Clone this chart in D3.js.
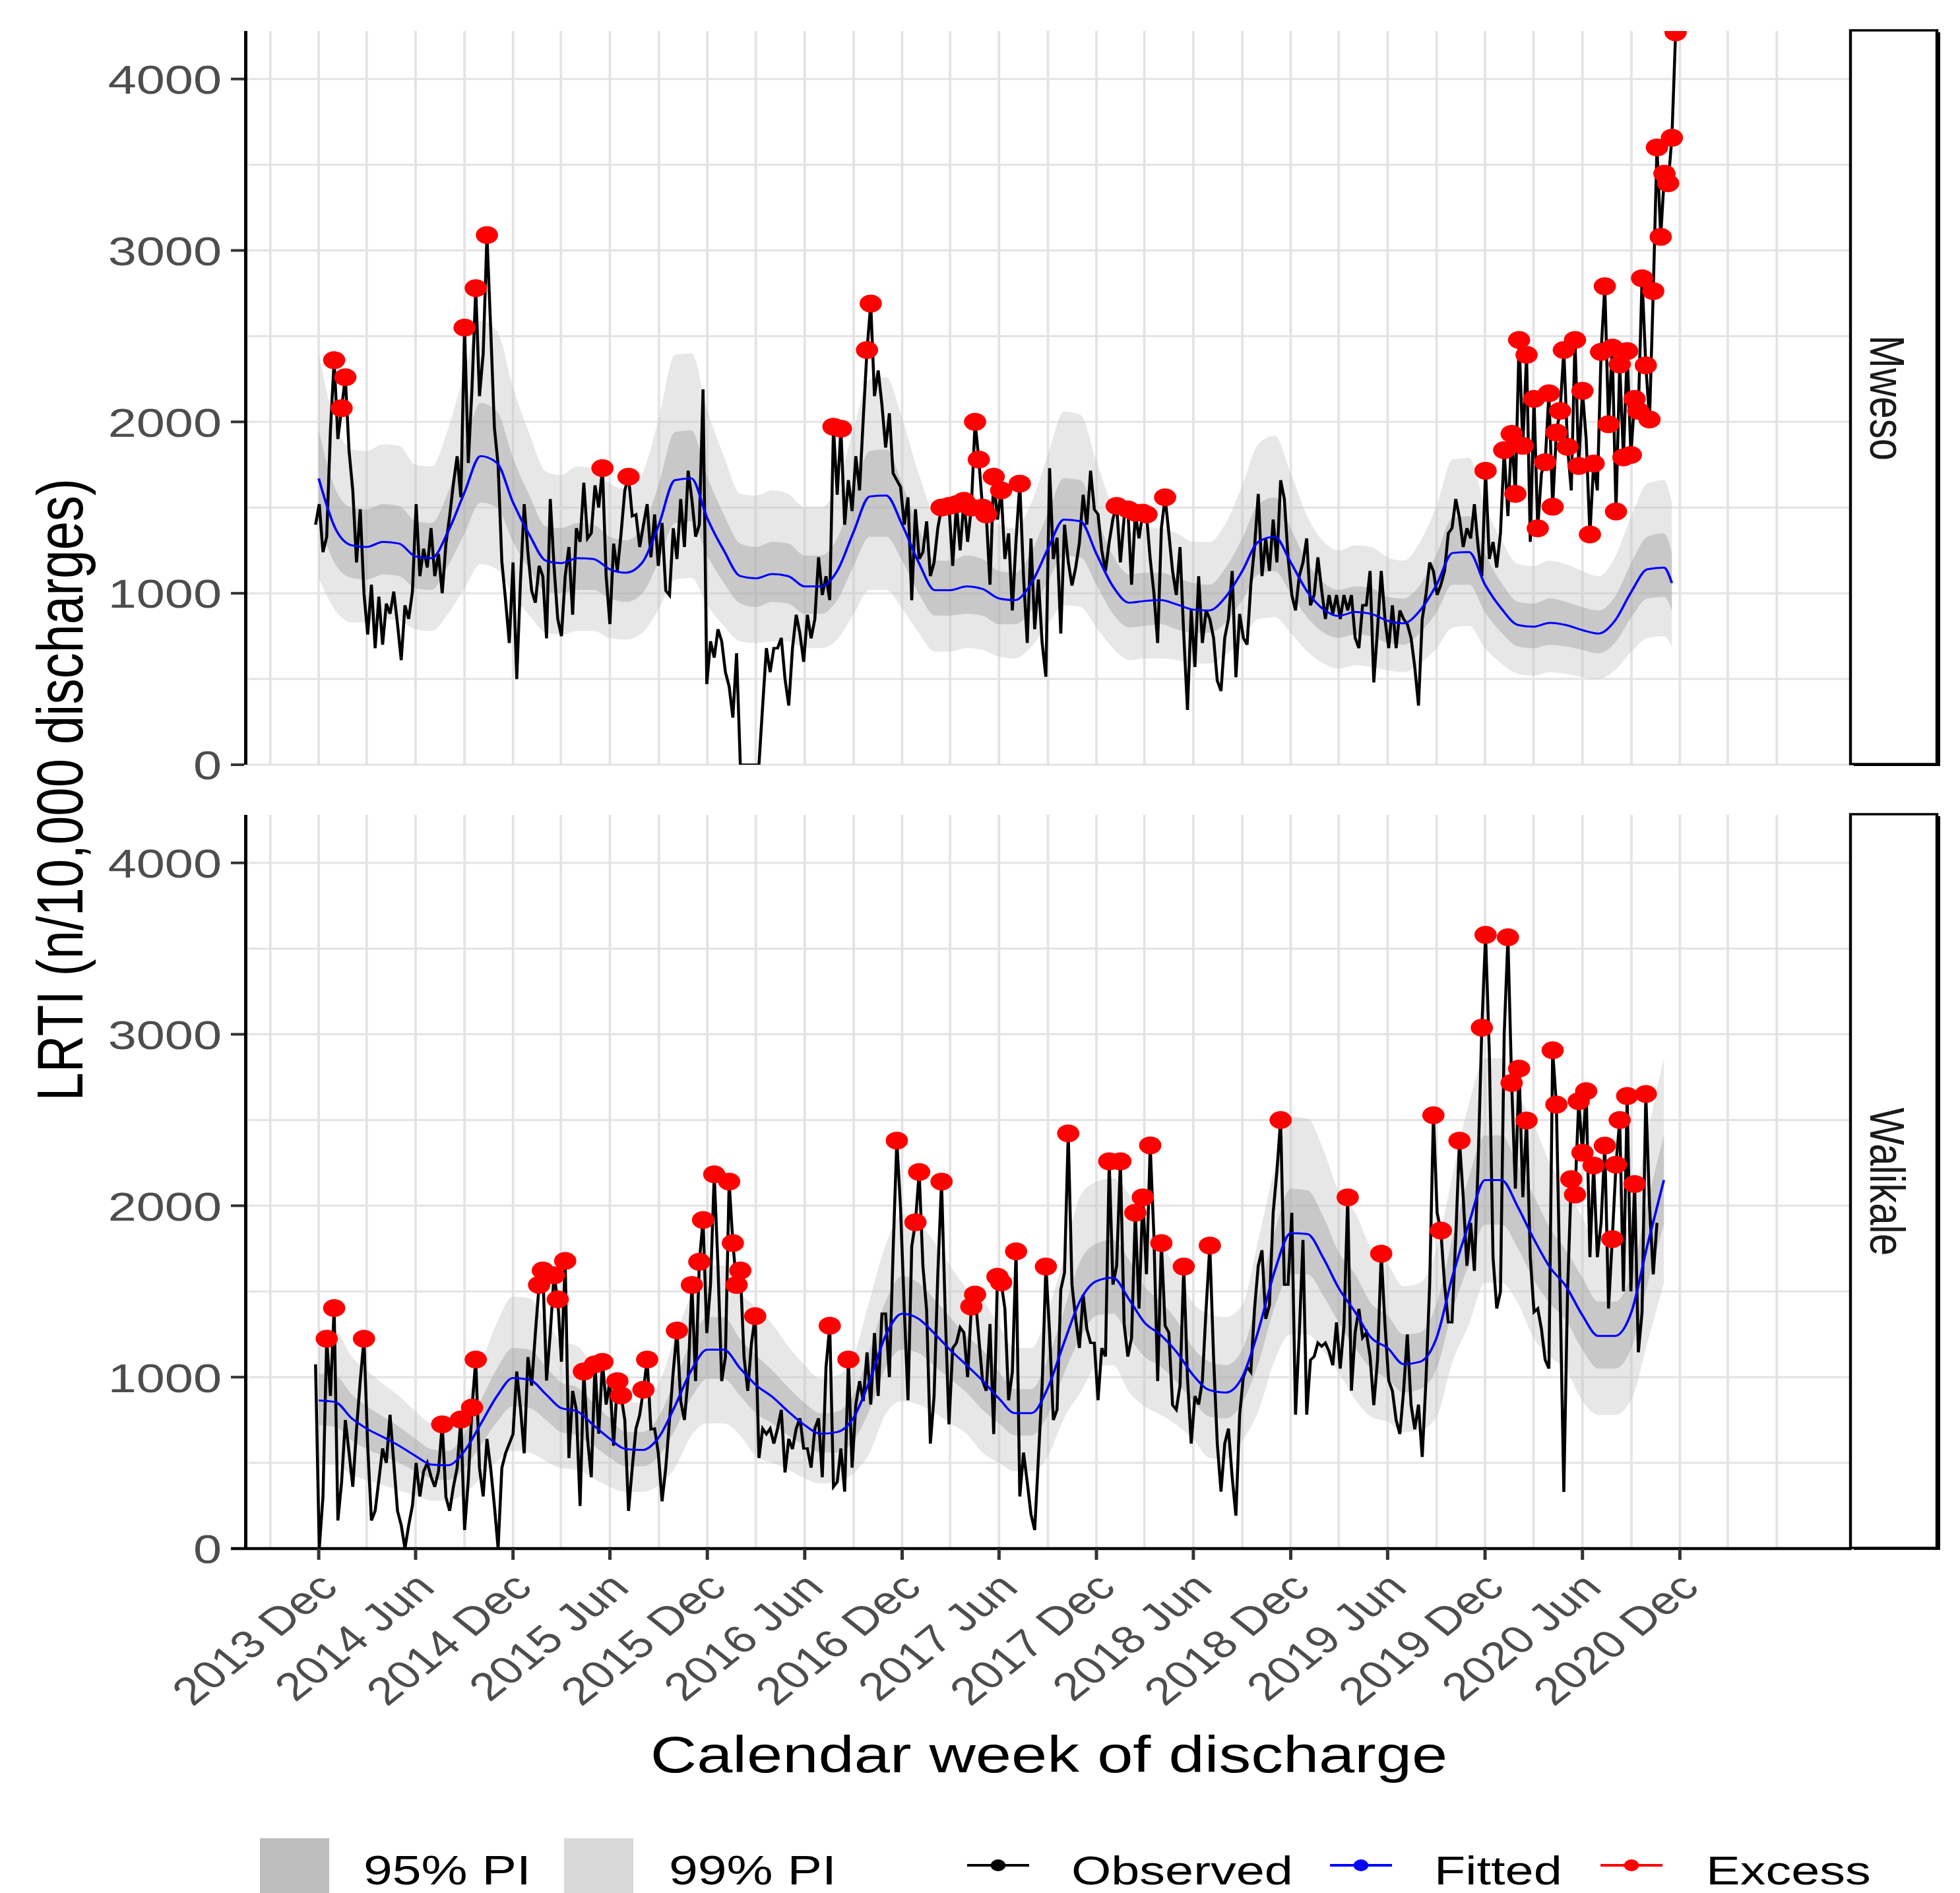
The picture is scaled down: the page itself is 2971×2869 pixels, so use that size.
<!DOCTYPE html>
<html>
<head>
<meta charset="utf-8">
<script src="https://cdn.jsdelivr.net/npm/d3@7/dist/d3.min.js"></script>
<style>
  html, body { margin: 0; padding: 0; background: #fff; }
  svg { display: block; font-family: 'Liberation Sans', Arial, sans-serif; }
</style>
</head>
<body>
<svg id="chart"></svg>
<script>
const width = 2971
const height = 2869
const SX = 1.25 // the whole picture is stretched sideways

// weekly observed series start on this Monday
const obsStart = new Date(2013, 10, 25)
const fitStart = new Date(2013, 11, 1)

const mwesoObserved = [
  1400,1520,1240,1330,1950,2360,1900,2080,2260,1830,
  1600,1180,1490,1000,760,1050,680,980,700,940,
  880,1010,820,610,930,850,1010,1520,1100,1260,
  1150,1380,1100,1230,1000,1290,1450,1640,1800,1560,
  2550,1760,2200,2780,2150,2400,3090,2550,1966,1750,
  1185,960,710,1180,500,1070,1520,1240,1015,945,
  1160,1100,737,1550,1160,850,750,1100,1270,875,
  1380,1300,1645,1320,1350,1630,1500,1730,1100,820,
  1290,1130,1350,1600,1680,1450,1460,1270,1400,1520,
  1210,1460,1160,1410,1015,988,1380,1200,1550,1270,
  1715,1547,1330,1400,2190,470,720,625,790,720,
  540,457,275,650,0,0,0,0,0,0,
  345,680,540,680,680,740,500,345,680,875,
  765,600,875,737,850,1210,990,1100,960,1972,
  1575,1960,1400,1660,1480,1800,1600,2022,2419,2690,
  2150,2300,2100,1850,2050,1700,1660,1620,1400,1560,
  960,1490,1200,1240,1420,1100,1180,1380,1500,1480,
  1510,1160,1520,1250,1540,1300,1500,2000,1780,1500,
  1460,1050,1680,1430,1600,1200,1350,900,1310,1640,
  1100,710,1320,790,1080,710,513,1730,1200,1325,
  765,1400,1185,1045,1150,1295,1575,1400,1715,1490,
  1460,1250,1130,1300,1435,1510,1180,1440,1490,1050,
  1470,1320,1470,1460,1200,1000,710,1380,1560,1350,
  1130,990,1270,760,320,900,570,1100,710,900,
  850,740,490,430,740,850,1130,510,880,740,
  700,1050,1270,1580,1100,1320,1130,1430,1180,1660,
  1550,1210,990,900,1100,1180,1320,930,990,1210,
  1020,850,990,880,990,850,990,900,990,740,
  680,930,930,1130,480,790,1130,850,680,930,
  680,900,850,820,740,570,345,850,990,1180,
  1130,990,1050,1130,1350,1380,1550,1440,1270,1380,
  1320,1520,1270,1100,1715,1200,1300,1150,1350,1835,
  1450,1930,1580,2478,1860,2391,1300,2134,1379,1700,
  1765,2167,1505,1938,2064,2419,1854,1600,2478,1743,
  2181,1900,1343,1757,1600,2408,2791,1986,2433,1477,
  2335,1793,2413,1807,2134,2064,2838,2330,2014,2763,
  3601,3079,3448,3392,3657,4272
]

// week numbers (from obsStart) flagged as excess
const mwesoExcess = [
  5,7,8,40,43,46,77,84,139,141,148,149,168,170,172,174,176,177,178,179,
  180,182,184,189,215,218,220,222,223,228,314,319,321,322,323,324,325,327,328,330,
  331,332,333,334,335,336,338,339,340,342,343,345,346,347,348,349,350,351,352,353,
  354,355,356,357,358,359,360,361,362,363,364,365
]

// monthly fitted values and prediction limits, Dec 2013 on, last one mid Nov 2020
const mwesoFitted = [
  1670,1380,1280,1270,1300,1290,1215,1205,1360,1590,
  1800,1760,1530,1340,1190,1176,1205,1200,1140,1120,
  1180,1400,1660,1670,1437,1250,1100,1087,1112,1100,
  1040,1040,1130,1360,1565,1570,1400,1180,1018,1018,
  1040,1025,970,960,1060,1260,1430,1420,1230,1040,
  945,955,960,935,905,900,980,1130,1300,1330,
  1180,1010,905,868,891,880,840,825,900,1050,
  1235,1240,1050,910,815,805,828,815,785,765,
  840,1010,1140,1150,1060
]
const mwesoHi99 = [
  2400,1990,1840,1830,1870,1860,1750,1740,1960,2290,
  2590,2530,2200,1930,1710,1690,1740,1730,1640,1610,
  1700,2020,2390,2400,2070,1800,1580,1570,1600,1580,
  1500,1500,1630,1960,2250,2260,2020,1700,1470,1470,
  1500,1480,1400,1380,1530,1810,2060,2040,1770,1500,
  1360,1380,1380,1350,1300,1300,1410,1630,1870,1920,
  1700,1450,1300,1250,1280,1270,1210,1190,1300,1510,
  1780,1790,1510,1310,1170,1160,1190,1170,1130,1100,
  1210,1450,1640,1660,1530
]
const mwesoHi95 = [
  1950,1610,1500,1490,1520,1510,1420,1410,1590,1860,
  2110,2060,1790,1570,1390,1380,1410,1400,1330,1310,
  1380,1640,1940,1950,1680,1460,1290,1270,1300,1290,
  1220,1220,1320,1590,1830,1840,1640,1380,1190,1190,
  1220,1200,1130,1120,1240,1470,1670,1660,1440,1220,
  1110,1120,1120,1090,1060,1050,1150,1320,1520,1560,
  1380,1180,1060,1020,1040,1030,980,970,1050,1230,
  1440,1450,1230,1060,950,940,970,950,920,900,
  980,1180,1330,1350,1240
]
const mwesoLo95 = [
  1420,1170,1090,1080,1110,1100,1030,1020,1160,1350,
  1530,1500,1300,1140,1010,1000,1020,1020,970,950,
  1000,1190,1410,1420,1220,1060,940,920,950,940,
  880,880,960,1160,1330,1330,1190,1000,870,870,
  880,870,820,820,900,1070,1220,1210,1050,880,
  800,810,820,790,770,770,830,960,1110,1130,
  1000,860,770,740,760,750,710,700,770,890,
  1050,1050,890,770,690,680,700,690,670,650,
  710,860,970,980,900
]
const mwesoLo99 = [
  1090,900,830,830,850,840,790,780,880,1030,
  1170,1140,990,870,770,760,780,780,740,730,
  770,910,1080,1090,930,810,720,710,720,720,
  680,680,730,880,1020,1020,910,770,660,660,
  680,670,630,620,690,820,930,920,800,680,
  610,620,620,610,590,590,640,730,850,860,
  770,660,590,560,580,570,550,540,590,680,
  800,810,680,590,530,520,540,530,510,500,
  550,660,740,750,690
]

const walikaleObserved = [
  1075,0,304,1224,890,1403,164,388,750,560,
  360,696,977,1224,600,164,220,400,584,500,
  781,500,220,136,0,136,250,500,304,450,
  500,420,360,450,725,300,220,360,470,753,
  108,400,823,1103,470,304,640,470,250,0,
  470,556,612,668,1033,820,556,1117,950,1257,
  1538,1622,980,1257,1594,1454,1090,1678,528,920,
  809,248,1033,640,416,1075,670,1089,840,977,
  600,977,893,750,220,472,700,780,927,1103,
  696,700,556,276,472,750,1033,1272,860,750,
  1000,1538,977,1673,1917,1257,1540,2183,1650,977,
  1117,2141,1782,1538,1622,1117,920,1200,1356,528,
  700,668,700,612,700,809,444,640,580,700,
  760,584,584,472,700,760,416,1060,1300,360,
  388,584,332,1103,472,840,977,860,1145,840,
  1257,890,1370,1370,1000,1734,2380,1987,1400,865,
  1762,1903,2197,1650,1390,612,890,1600,2141,1370,
  725,1170,1200,1290,1260,1000,1412,1482,1230,980,
  920,1310,668,1586,1552,1400,865,1030,1734,304,
  560,388,200,108,530,950,1645,1260,750,810,
  1510,1610,2422,1540,1340,1170,1480,1280,1200,1200,
  865,1170,1120,2259,1540,1650,2259,1310,1120,1230,
  1959,1400,2049,1600,2352,1820,977,1782,1300,1260,
  837,810,950,1645,1000,612,890,840,980,1398,
  1768,1120,612,332,612,700,416,192,780,1000,
  1060,1030,1400,1650,1740,1340,1420,1960,2200,2500,
  1540,1540,1959,781,1250,1800,781,1100,1120,1200,
  1180,1200,1150,1070,1320,1050,1300,2049,921,1260,
  1398,1230,1260,1120,837,1100,1720,1310,980,920,
  750,668,920,1250,840,696,840,534,980,1540,
  2528,1959,1855,1540,1320,1320,1820,2380,2050,1650,
  1900,1620,2250,3039,3580,2900,1700,1400,1500,3000,
  3566,2716,2100,2800,2050,2497,1700,1380,1400,1280,
  1100,1050,2907,2590,1500,330,1500,2155,2065,2610,
  2309,2668,1700,2234,1700,1900,2351,1400,1805,2239,
  2500,1500,2640,1500,2127,1145,1380,2652,2000,1600,
  1900
]

const walikaleExcess = [
  3,5,13,34,39,42,43,60,61,64,65,67,72,75,77,81,82,88,89,97,
  101,103,104,107,111,112,113,114,118,138,143,156,161,162,168,176,177,183,184,188,
  196,202,213,216,220,222,224,227,233,240,259,277,286,300,302,307,313,314,320,321,
  323,325,332,333,337,338,339,340,341,343,346,348,349,350,352,354,357
]

const walikaleFitted = [
  864,855,760,700,650,600,540,490,486,570,
  725,890,995,985,900,820,800,720,640,580,
  575,650,830,1040,1160,1160,1050,955,885,800,
  720,670,680,765,980,1250,1370,1340,1250,1160,
  1070,980,875,790,790,940,1200,1450,1560,1580,
  1450,1320,1245,1145,1010,925,910,1000,1270,1620,
  1840,1835,1690,1520,1380,1230,1170,1076,1090,1230,
  1590,1900,2150,2150,1990,1810,1640,1530,1360,1240,
  1240,1380,1770,2150
]
const walikaleHi99 = [
  1280,1270,1120,1040,960,890,800,730,720,840,
  1070,1320,1470,1460,1330,1210,1180,1070,950,860,
  850,960,1230,1480,1650,1650,1490,1410,1310,1180,
  1070,990,1010,1130,1450,1780,1950,1900,1780,1650,
  1520,1450,1300,1170,1170,1390,1700,2060,2140,2160,
  2060,1870,1770,1630,1430,1370,1350,1420,1800,2220,
  2520,2510,2320,2080,1960,1750,1660,1530,1550,1750,
  2180,2600,2860,2860,2650,2480,2250,2100,1930,1760,
  1760,1960,2420,2860
]
const walikaleHi95 = [
  1020,1010,900,830,770,710,640,580,570,670,
  860,1050,1170,1160,1060,970,940,850,760,680,
  680,770,980,1210,1350,1350,1220,1130,1040,940,
  850,790,800,900,1160,1450,1590,1550,1450,1350,
  1240,1160,1030,930,930,1110,1390,1680,1780,1800,
  1680,1530,1440,1330,1170,1090,1070,1160,1470,1850,
  2100,2090,1930,1730,1600,1430,1360,1250,1260,1430,
  1810,2170,2410,2410,2230,2060,1870,1740,1580,1440,
  1440,1600,2020,2410
]
const walikaleLo95 = [
  720,710,630,580,540,500,450,410,400,470,
  600,740,830,820,750,680,660,600,530,480,
  480,540,690,880,990,990,890,790,730,660,
  600,560,560,630,810,1060,1160,1140,1060,990,
  910,810,730,660,660,780,1020,1230,1360,1370,
  1230,1120,1060,970,860,770,760,850,1080,1410,
  1600,1600,1470,1320,1170,1050,990,910,930,1050,
  1390,1660,1890,1890,1750,1570,1430,1330,1160,1050,
  1050,1170,1540,1890
]
const walikaleLo99 = [
  490,490,430,400,370,340,310,280,280,320,
  410,510,570,560,510,470,460,410,360,330,
  330,370,470,660,730,730,660,540,500,460,
  410,380,390,440,560,790,860,840,790,730,
  670,560,500,450,450,540,760,910,1060,1070,
  910,830,780,720,640,530,520,630,800,1100,
  1250,1250,1150,1030,870,770,740,680,690,770,
  1090,1310,1550,1550,1430,1230,1120,1040,860,780,
  780,870,1200,1550
]

const yTicks = [0, 1000, 2000, 3000, 4000]
const legendFills = ['95% PI', '99% PI']
const legendLines = ['Observed', 'Fitted', 'Excess']

// full-width x coordinate to local (unstretched) coordinate
const px = v => v / SX

const svg = d3.select('#chart')
    .attr('width', width)
    .attr('height', height)

svg.append('rect')
    .attr('width', width)
    .attr('height', height)
    .attr('fill', '#fff')

const root = svg.append('g')
    .attr('transform', `scale(${SX},1)`)

const x = d3.scaleTime()
    .domain([new Date(2013, 6, 20), new Date(2021, 9, 20)])
    .range([px(375), px(2807)])

const panelH = 1112
const gridDates = d3.timeMonth.range(new Date(2013, 8, 1), new Date(2021, 6, 2), 3)
const tickDates = d3.timeMonth.range(new Date(2013, 11, 1), new Date(2021, 0, 2), 6)

const weekDate = i => d3.timeWeek.offset(obsStart, i)
const monthDates = n => d3.range(n).map(i => d3.timeMonth.offset(fitStart, i))

const panels = [
  {
    name: 'Mweso',
    top: 47,
    observed: mwesoObserved,
    excess: mwesoExcess,
    fitDates: monthDates(84).concat([new Date(2020, 10, 16)]),
    fitted: mwesoFitted,
    hi99: mwesoHi99,
    hi95: mwesoHi95,
    lo95: mwesoLo95,
    lo99: mwesoLo99,
  },
  {
    name: 'Walikale',
    top: 1235,
    observed: walikaleObserved,
    excess: walikaleExcess,
    fitDates: monthDates(84),
    fitted: walikaleFitted,
    hi99: walikaleHi99,
    hi95: walikaleHi95,
    lo95: walikaleLo95,
    lo99: walikaleLo99,
  },
]

const defs = root.append('defs')

panels.forEach((p, k) => drawPanel(p, k))

function drawPanel(p, k) {
  const y = d3.scaleLinear()
      .domain([0, 4280])
      .range([p.top + panelH, p.top])

  const clipId = 'clip' + k
  defs.append('clipPath')
      .attr('id', clipId)
    .append('rect')
      .attr('x', px(375))
      .attr('y', p.top)
      .attr('width', px(2807) - px(375))
      .attr('height', panelH)

  const g = root.append('g')

  // grid
  g.selectAll('.hgrid')
      .data(d3.range(0, 4001, 500))
    .join('line')
      .attr('x1', px(375))
      .attr('x2', px(2807))
      .attr('y1', d => y(d))
      .attr('y2', d => y(d))
      .attr('stroke', '#e3e3e3')
      .attr('stroke-width', 3)

  g.selectAll('.vgrid')
      .data(gridDates)
    .join('line')
      .attr('x1', d => x(d))
      .attr('x2', d => x(d))
      .attr('y1', p.top)
      .attr('y2', p.top + panelH)
      .attr('stroke', '#e3e3e3')
      .attr('stroke-width', 3)

  const plot = g.append('g')
      .attr('clip-path', `url(#${clipId})`)

  const fitIdx = d3.range(p.fitted.length)

  const area = (lo, hi) => d3.area()
      .x(i => x(p.fitDates[i]))
      .y0(i => y(lo[i]))
      .y1(i => y(hi[i]))
      .curve(d3.curveMonotoneX)

  plot.append('path')
      .datum(fitIdx)
      .attr('d', area(p.lo99, p.hi99))
      .attr('fill', '#c4c4c4')
      .attr('fill-opacity', 0.4)

  plot.append('path')
      .datum(fitIdx)
      .attr('d', area(p.lo95, p.hi95))
      .attr('fill', '#9c9c9c')
      .attr('fill-opacity', 0.4)

  const obsLine = d3.line()
      .x((d, i) => x(weekDate(i)))
      .y(d => y(d))

  plot.append('path')
      .datum(p.observed)
      .attr('d', obsLine)
      .attr('fill', 'none')
      .attr('stroke', '#000')
      .attr('stroke-width', 3.6)
      .attr('stroke-linejoin', 'miter')

  const fitLine = d3.line()
      .x(i => x(p.fitDates[i]))
      .y(i => y(p.fitted[i]))
      .curve(d3.curveMonotoneX)

  plot.append('path')
      .datum(fitIdx)
      .attr('d', fitLine)
      .attr('fill', 'none')
      .attr('stroke', '#0000ff')
      .attr('stroke-width', 3)

  plot.selectAll('.excess')
      .data(p.excess)
    .join('circle')
      .attr('cx', i => x(weekDate(i)))
      .attr('cy', i => y(p.observed[i]))
      .attr('r', 13.5)
      .attr('fill', '#ff0000')

  // y axis
  g.append('line')
      .attr('x1', px(372.5))
      .attr('x2', px(372.5))
      .attr('y1', p.top)
      .attr('y2', p.top + panelH)
      .attr('stroke', '#000')
      .attr('stroke-width', 4)

  g.selectAll('.ytick')
      .data(yTicks)
    .join('line')
      .attr('x1', px(350))
      .attr('x2', px(370))
      .attr('y1', d => y(d))
      .attr('y2', d => y(d))
      .attr('stroke', '#333')
      .attr('stroke-width', 4)

  g.selectAll('.ylabel')
      .data(yTicks)
    .join('text')
      .attr('x', px(336))
      .attr('y', d => y(d))
      .attr('dy', '0.36em')
      .attr('text-anchor', 'end')
      .attr('font-size', 62)
      .attr('fill', '#4d4d4d')
      .text(d => d)

  // strip
  const sx0 = px(2805)
  const sx1 = px(2936)
  g.append('rect')
      .attr('x', sx0 + px(5))
      .attr('y', p.top + 2)
      .attr('width', sx1 - sx0)
      .attr('height', panelH)
      .attr('fill', '#000')

  g.append('rect')
      .attr('x', sx0)
      .attr('y', p.top - 1)
      .attr('width', sx1 - sx0)
      .attr('height', panelH)
      .attr('fill', '#fff')
      .attr('stroke', '#000')
      .attr('stroke-width', 3.5)

  g.append('text')
      .attr('transform', `translate(${px(2862)},${p.top + panelH / 2}) rotate(90)`)
      .attr('dy', '0.36em')
      .attr('text-anchor', 'middle')
      .attr('font-size', 60)
      .attr('fill', '#1a1a1a')
      .text(p.name)

  if (k === panels.length - 1) {
    const base = p.top + panelH

    g.append('line')
        .attr('x1', px(350))
        .attr('x2', px(2807))
        .attr('y1', base)
        .attr('y2', base)
        .attr('stroke', '#000')
        .attr('stroke-width', 4.5)

    g.selectAll('.xtick')
        .data(tickDates)
      .join('line')
        .attr('x1', d => x(d))
        .attr('x2', d => x(d))
        .attr('y1', base)
        .attr('y2', base + 17)
        .attr('stroke', '#333')
        .attr('stroke-width', 4)

    const fmt = d3.timeFormat('%Y %b')
    g.selectAll('.xlabel')
        .data(tickDates)
      .join('text')
        .attr('transform', d => `translate(${x(d) + px(32)},${base + 62}) rotate(-45)`)
        .attr('text-anchor', 'end')
        .attr('font-size', 59)
        .attr('fill', '#4d4d4d')
        .text(d => fmt(d))
  }
}

// axis titles
root.append('text')
    .attr('transform', `translate(${px(125)},${(47 + 1235 + panelH) / 2}) rotate(-90)`)
    .attr('text-anchor', 'middle')
    .attr('font-size', 78)
    .attr('fill', '#000')
    .text('LRTI (n/10,000 discharges)')

root.append('text')
    .attr('x', px(1590))
    .attr('y', 2686)
    .attr('text-anchor', 'middle')
    .attr('font-size', 78)
    .attr('fill', '#000')
    .text('Calendar week of discharge')

// legend
const legend = root.append('g')

const fillKeys = [
  { label: legendFills[0], fill: '#bebebe', box: 394, text: 551 },
  { label: legendFills[1], fill: '#d9d9d9', box: 855, text: 1014 },
]

fillKeys.forEach(d => {
  legend.append('rect')
      .attr('x', px(d.box))
      .attr('y', 2786)
      .attr('width', px(105))
      .attr('height', 84)
      .attr('fill', d.fill)
  legend.append('text')
      .attr('x', px(d.text))
      .attr('y', 2856)
      .attr('font-size', 63)
      .attr('fill', '#000')
      .text(d.label)
})

const lineKeys = [
  { label: legendLines[0], color: '#000', key: 1466, text: 1624 },
  { label: legendLines[1], color: '#0000ff', key: 2016, text: 2174 },
  { label: legendLines[2], color: '#ff0000', key: 2426, text: 2586 },
]

lineKeys.forEach(d => {
  legend.append('line')
      .attr('x1', px(d.key))
      .attr('x2', px(d.key + 94))
      .attr('y1', 2827)
      .attr('y2', 2827)
      .attr('stroke', d.color)
      .attr('stroke-width', 4)
  legend.append('circle')
      .attr('cx', px(d.key + 47))
      .attr('cy', 2827)
      .attr('r', 9)
      .attr('fill', d.color)
  legend.append('text')
      .attr('x', px(d.text))
      .attr('y', 2856)
      .attr('font-size', 62)
      .attr('fill', '#000')
      .text(d.label)
})
</script>
</body>
</html>
